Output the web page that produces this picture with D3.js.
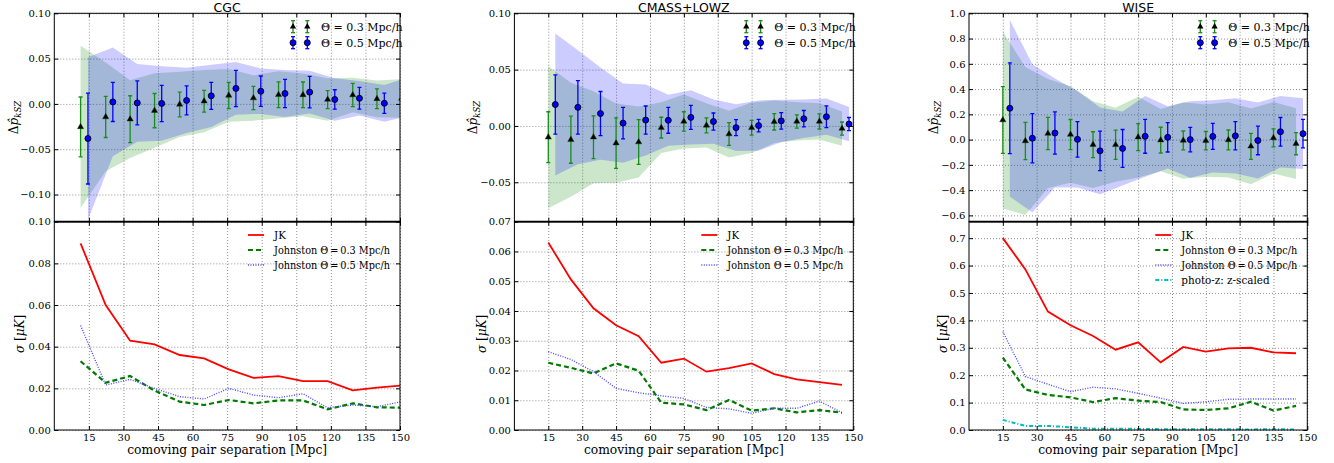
<!DOCTYPE html>
<meta charset="utf-8">
<style>
body { margin: 0; background: #fff; }
svg { font-family: "DejaVu Serif", serif; }
.tick text { font-size: 10px; font-family: "DejaVu Serif", serif; fill: #000; }
.ax path { display: none; }
.ax line { stroke: #000; stroke-width: 1; }
.grid path { display: none; }
.grid line { stroke: #000; stroke-opacity: 0.55; stroke-width: 0.8; stroke-dasharray: 1,2; }
.title { font-family: "DejaVu Sans", sans-serif; font-size: 12.5px; text-anchor: middle; }
.leg { font-size: 11px; }
.leg2 { font-size: 10.4px; }
</style>
<body>
<script src="https://d3js.org/d3.v7.min.js"></script>
<script>

// x ticks shared by all panels
var xTickVals = [15, 30, 45, 60, 75, 90, 105, 120, 135, 150];

// CGC
var cgcX3 = [11.4, 22.3, 32.9, 43.5, 54.4, 65.0, 75.7, 86.4, 97.3, 107.9, 118.6, 129.5, 140.0, 150.7];
var cgcX5 = [14.6, 25.4, 36.0, 46.6, 57.4, 68.1, 78.8, 89.6, 100.1, 110.8, 121.7, 132.4, 143.2, 153.9];
var cgcP3 = [-0.0254, -0.0144, -0.0169, -0.0074, -0.0006, 0.0030, 0.0093, 0.0065, 0.0101, 0.0100, 0.0048, 0.0098, 0.0056, 0.0060];
var cgcP5 = [-0.0382, 0.0022, 0.0011, 0.0005, 0.0038, 0.0089, 0.0171, 0.0140, 0.0115, 0.0130, 0.0049, 0.0062, 0.0007, 0.0080];
var cgcJK = [0.0896, 0.0600, 0.0429, 0.0411, 0.0360, 0.0344, 0.0291, 0.0250, 0.0259, 0.0235, 0.0235, 0.0190, 0.0203, 0.0214];
var cgcJ3 = [0.0330, 0.0227, 0.0259, 0.0189, 0.0136, 0.0120, 0.0144, 0.0128, 0.0142, 0.0142, 0.0099, 0.0128, 0.0109, 0.0107];
var cgcJ5 = [0.0502, 0.0216, 0.0243, 0.0200, 0.0160, 0.0149, 0.0200, 0.0168, 0.0155, 0.0174, 0.0107, 0.0120, 0.0112, 0.0136];
var cgcTopTicks = [-0.10, -0.05, 0.00, 0.05, 0.10];
var cgcBotTicks = [0.00, 0.02, 0.04, 0.06, 0.08, 0.10];

// CMASS+LOWZ
var cmX3 = [15, 25, 35, 45, 55, 65, 75, 85, 95, 105, 115, 125, 135, 145];
var cmX5 = [18.1, 28.1, 38.1, 48.1, 58.1, 68.1, 78.1, 88.1, 98.1, 108.1, 118.1, 128.1, 138.1, 148.1];
var cmP3 = [-0.0100, -0.0122, -0.0100, -0.0152, -0.0143, -0.0015, 0.0040, 0.0005, -0.0072, -0.0016, 0.0037, 0.0040, 0.0040, -0.0023];
var cmP5 = [0.0190, 0.0165, 0.0110, 0.0025, 0.0052, 0.0050, 0.0076, 0.0039, -0.0015, 0.0003, 0.0045, 0.0064, 0.0082, 0.0017];
var cmJK = [0.0630, 0.0506, 0.0409, 0.0352, 0.0315, 0.0226, 0.0240, 0.0196, 0.0208, 0.0224, 0.0188, 0.0170, 0.0161, 0.0152];
var cmJ3 = [0.0226, 0.0209, 0.0190, 0.0224, 0.0199, 0.0092, 0.0086, 0.0067, 0.0101, 0.0065, 0.0073, 0.0059, 0.0067, 0.0058];
var cmJ5 = [0.0263, 0.0237, 0.0196, 0.0140, 0.0125, 0.0115, 0.0106, 0.0076, 0.0071, 0.0056, 0.0073, 0.0073, 0.0097, 0.0058];
var cmTopTicks = [-0.05, 0.00, 0.05, 0.10];
var cmBotTicks = [0.00, 0.01, 0.02, 0.03, 0.04, 0.05, 0.06, 0.07];

// WISE
var wiX3 = [15, 25, 35, 45, 55, 65, 75, 85, 95, 105, 115, 125, 135, 145];
var wiX5 = [18.1, 28.1, 38.1, 48.1, 58.1, 68.1, 78.1, 88.1, 98.1, 108.1, 118.1, 128.1, 138.1, 148.1];
var wiP3 = [0.155, -0.011, 0.048, 0.040, -0.040, -0.041, 0.020, -0.004, -0.007, -0.009, -0.003, -0.053, 0.014, -0.032];
var wiP5 = [0.248, 0.011, 0.052, 0.002, -0.089, -0.070, 0.026, 0.018, 0.000, 0.025, 0.030, -0.007, 0.062, 0.047];
var wiJK = [0.700, 0.586, 0.432, 0.382, 0.343, 0.293, 0.320, 0.247, 0.303, 0.286, 0.298, 0.300, 0.283, 0.280];
var wiJ3 = [0.264, 0.148, 0.128, 0.119, 0.102, 0.116, 0.107, 0.102, 0.075, 0.073, 0.079, 0.103, 0.071, 0.088];
var wiJ5 = [0.359, 0.195, 0.167, 0.140, 0.156, 0.150, 0.134, 0.116, 0.097, 0.103, 0.112, 0.113, 0.113, 0.113];
var wiPZ = [0.037, 0.015, 0.015, 0.010, 0.005, 0.005, 0.004, 0.003, 0.003, 0.003, 0.003, 0.002, 0.003, 0.002];
var wiTopTicks = [-0.6, -0.4, -0.2, 0.0, 0.2, 0.4, 0.6, 0.8, 1.0];
var wiBotTicks = [0.0, 0.1, 0.2, 0.3, 0.4, 0.5, 0.6, 0.7];

var panels = [
  {title: "CGC", x0: 54.3, x1: 400, xg: cgcX3, xb: cgcX5, p3: cgcP3, p5: cgcP5, jk: cgcJK, j3: cgcJ3, j5: cgcJ5, pz: null,
   topDom: [-0.13, 0.10], topTicks: cgcTopTicks, topFmt: ".2f",
   botDom: [0, 0.10], botTicks: cgcBotTicks, botFmt: ".2f", labX1: 14, labX2: 20},
  {title: "CMASS+LOWZ", x0: 514.4, x1: 853.3, xg: cmX3, xb: cmX5, p3: cmP3, p5: cmP5, jk: cmJK, j3: cmJ3, j5: cmJ5, pz: null,
   topDom: [-0.085, 0.10], topTicks: cmTopTicks, topFmt: ".2f",
   botDom: [0, 0.07], botTicks: cmBotTicks, botFmt: ".2f", labX1: 473, labX2: 482},
  {title: "WISE", x0: 969, x1: 1307.3, xg: wiX3, xb: wiX5, p3: wiP3, p5: wiP5, jk: wiJK, j3: wiJ3, j5: wiJ5, pz: wiPZ,
   topDom: [-0.65, 1.0], topTicks: wiTopTicks, topFmt: ".1f",
   botDom: [0, 0.76], botTicks: wiBotTicks, botFmt: ".1f", labX1: 934, labX2: 943}
];

var yTop = 13.3, yMid = 221.7, yBot = 430;

var svg = d3.select("body").append("svg")
    .attr("width", 1334)
    .attr("height", 463);

var defs = svg.append("defs");

function idx(a) { return a.map(function(d, i) { return i; }); }

var tri = d3.symbol().type(d3.symbolTriangle).size(17);

panels.forEach(function(p, k) {
    var x = d3.scaleLinear().domain([0, 150]).range([p.x0, p.x1]);
    var yT = d3.scaleLinear().domain(p.topDom).range([yMid, yTop]);
    var yB = d3.scaleLinear().domain(p.botDom).range([yBot, yMid]);
    var w = p.x1 - p.x0;

    defs.append("clipPath").attr("id", "ct" + k)
      .append("rect").attr("x", p.x0).attr("y", yTop).attr("width", w).attr("height", yMid - yTop);
    defs.append("clipPath").attr("id", "cb" + k)
      .append("rect").attr("x", p.x0).attr("y", yMid).attr("width", w).attr("height", yBot - yMid);

    // grids
    [[yT, yTop, yMid, p.topTicks], [yB, yMid, yBot, p.botTicks]].forEach(function(s) {
        svg.append("g").attr("class", "grid")
            .attr("transform", "translate(0," + s[2] + ")")
            .call(d3.axisBottom(x).tickValues(xTickVals).tickSize(-(s[2] - s[1])).tickFormat(""));
        svg.append("g").attr("class", "grid")
            .attr("transform", "translate(" + p.x0 + ",0)")
            .call(d3.axisLeft(s[0]).tickValues(s[3]).tickSize(-w).tickFormat(""));
    });

    // top panel: bands (value +/- JK sigma)
    var gT = svg.append("g").attr("clip-path", "url(#ct" + k + ")");
    var areaG = d3.area()
        .x(function(i) { return x(p.xg[i]); })
        .y0(function(i) { return yT(p.p3[i] - p.jk[i]); })
        .y1(function(i) { return yT(p.p3[i] + p.jk[i]); });
    var areaB = d3.area()
        .x(function(i) { return x(p.xb[i]); })
        .y0(function(i) { return yT(p.p5[i] - p.jk[i]); })
        .y1(function(i) { return yT(p.p5[i] + p.jk[i]); });
    gT.append("path").attr("d", areaG(idx(p.xg))).attr("fill", "#008000").attr("fill-opacity", 0.2);
    gT.append("path").attr("d", areaB(idx(p.xb))).attr("fill", "#0000ff").attr("fill-opacity", 0.2);

    // error bars
    function errbars(xs, ys, es, col) {
        var g = gT.append("g").attr("stroke", col).attr("stroke-width", 1.3);
        xs.forEach(function(xv, i) {
            var cx = x(xv), a = yT(ys[i] - es[i]), b = yT(ys[i] + es[i]);
            g.append("line").attr("x1", cx).attr("x2", cx).attr("y1", a).attr("y2", b);
            g.append("line").attr("x1", cx - 2).attr("x2", cx + 2).attr("y1", a).attr("y2", a);
            g.append("line").attr("x1", cx - 2).attr("x2", cx + 2).attr("y1", b).attr("y2", b);
        });
    }
    errbars(p.xg, p.p3, p.j3, "#1a8c1a");
    errbars(p.xb, p.p5, p.j5, "#0000ff");

    gT.selectAll(".tri").data(idx(p.xg)).enter().append("path")
        .attr("d", tri)
        .attr("transform", function(i) { return "translate(" + x(p.xg[i]) + "," + yT(p.p3[i]) + ")"; })
        .attr("fill", "#000").attr("stroke", "#0b3d0b").attr("stroke-width", 0.4);
    gT.selectAll(".dot").data(idx(p.xb)).enter().append("circle")
        .attr("cx", function(i) { return x(p.xb[i]); })
        .attr("cy", function(i) { return yT(p.p5[i]); })
        .attr("r", 3)
        .attr("fill", "#0000ff").attr("stroke", "#000").attr("stroke-width", 0.9);

    // bottom panel lines
    var gB = svg.append("g").attr("clip-path", "url(#cb" + k + ")");
    function curve(vals) {
        return d3.line()
            .x(function(i) { return x(p.xg[i]); })
            .y(function(i) { return yB(vals[i]); })(idx(vals));
    }
    var styles = [
        {v: p.jk, c: "#ff0000", w: 1.8, d: null},
        {v: p.j3, c: "#007a00", w: 2.2, d: "5,3"},
        {v: p.j5, c: "#4a4aff", w: 1.4, d: "1,1.5"}
    ];
    if (p.pz) styles.push({v: p.pz, c: "#00bfbf", w: 2, d: "4,2,1,2"});
    styles.forEach(function(s) {
        gB.append("path").attr("d", curve(s.v)).attr("fill", "none")
            .attr("stroke", s.c).attr("stroke-width", s.w)
            .attr("stroke-dasharray", s.d);
    });

    // axes with inward ticks
    [[yTop, yMid, yT, p.topTicks, p.topFmt, false], [yMid, yBot, yB, p.botTicks, p.botFmt, true]].forEach(function(s) {
        svg.append("g").attr("class", "ax")
            .attr("transform", "translate(" + p.x0 + ",0)")
            .call(d3.axisLeft(s[2]).tickValues(s[3]).tickSize(-4).tickPadding(3.5).tickFormat(d3.format(s[4])));
        svg.append("g").attr("class", "ax")
            .attr("transform", "translate(" + p.x1 + ",0)")
            .call(d3.axisRight(s[2]).tickValues(s[3]).tickSize(-4).tickFormat(""));
        svg.append("g").attr("class", "ax")
            .attr("transform", "translate(0," + s[0] + ")")
            .call(d3.axisTop(x).tickValues(xTickVals).tickSize(-4).tickFormat(""));
        var bx = svg.append("g").attr("class", "ax")
            .attr("transform", "translate(0," + s[1] + ")");
        if (s[5]) bx.call(d3.axisBottom(x).tickValues(xTickVals).tickSize(-4).tickPadding(3.5));
        else bx.call(d3.axisBottom(x).tickValues(xTickVals).tickSize(-4).tickFormat(""));
        svg.append("rect").attr("x", p.x0).attr("y", s[0]).attr("width", w).attr("height", s[1] - s[0])
            .attr("fill", "none").attr("stroke", "#000").attr("stroke-width", 1);
    });
    svg.append("line").attr("x1", p.x0).attr("x2", p.x1).attr("y1", yMid).attr("y2", yMid)
        .attr("stroke", "#000").attr("stroke-width", 1.8);

    // titles and labels
    svg.append("text").attr("class", "title").attr("x", (p.x0 + p.x1) / 2).attr("y", 11.5).text(p.title);
    svg.append("text").attr("x", (p.x0 + p.x1) / 2).attr("y", 454).attr("text-anchor", "middle")
        .style("font-size", "12.3px").text("comoving pair separation [Mpc]");

    var l1 = svg.append("text").attr("text-anchor", "middle").style("font-size", "12px")
        .attr("transform", "translate(" + (p.labX1 + 4) + "," + ((yTop + yMid) / 2) + ") rotate(-90)");
    l1.append("tspan").text("Δ");
    l1.append("tspan").style("font-style", "italic").text("p\u0302");
    l1.append("tspan").style("font-style", "italic").style("font-size", "8.5px").attr("dy", 3).text("kSZ");

    var l2 = svg.append("text").attr("text-anchor", "middle").style("font-size", "12px")
        .attr("transform", "translate(" + (p.labX2 + 4) + "," + ((yMid + yBot) / 2 + 8) + ") rotate(-90)");
    l2.append("tspan").style("font-style", "italic").text("σ");
    l2.append("tspan").text(" [");
    l2.append("tspan").style("font-style", "italic").text("μK");
    l2.append("tspan").text("]");

    // top legend
    var lgx = p.x1 - 107;
    [{c: "#1a8c1a", m: "tri", t: "Θ = 0.3 Mpc/h", y: 26.7}, {c: "#0000ff", m: "dot", t: "Θ = 0.5 Mpc/h", y: 42.7}].forEach(function(e) {
        [lgx, lgx + 14.3].forEach(function(mx) {
            var g = svg.append("g").attr("stroke", e.c).attr("stroke-width", 1.3);
            g.append("line").attr("x1", mx).attr("x2", mx).attr("y1", e.y - 6).attr("y2", e.y + 6);
            g.append("line").attr("x1", mx - 2).attr("x2", mx + 2).attr("y1", e.y - 6).attr("y2", e.y - 6);
            g.append("line").attr("x1", mx - 2).attr("x2", mx + 2).attr("y1", e.y + 6).attr("y2", e.y + 6);
            if (e.m == "tri") {
                svg.append("path").attr("d", tri()).attr("transform", "translate(" + mx + "," + e.y + ")")
                    .attr("fill", "#000");
            } else {
                svg.append("circle").attr("cx", mx).attr("cy", e.y).attr("r", 3)
                    .attr("fill", "#0000ff").attr("stroke", "#000").attr("stroke-width", 0.9);
            }
        });
        svg.append("text").attr("class", "leg").attr("x", lgx + 28).attr("y", e.y + 4).text(e.t);
    });

    // bottom legend
    var names = ["JK", "Johnston Θ\u2009=\u20090.3 Mpc/h", "Johnston Θ\u2009=\u20090.5 Mpc/h", "photo-z: z-scaled"];
    styles.forEach(function(s, i) {
        var ly = 235 + i * 15;
        svg.append("line").attr("x1", p.x1 - 152).attr("x2", p.x1 - 136).attr("y1", ly).attr("y2", ly)
            .attr("stroke", s.c).attr("stroke-width", s.w).attr("stroke-dasharray", s.d);
        var t = svg.append("text").attr("class", "leg2").attr("x", p.x1 - 126).attr("y", ly + 4).text(names[i]);
        if (i == 1 || i == 2) t.attr("textLength", 116).attr("lengthAdjust", "spacingAndGlyphs");
    });
});

</script>
</body>
